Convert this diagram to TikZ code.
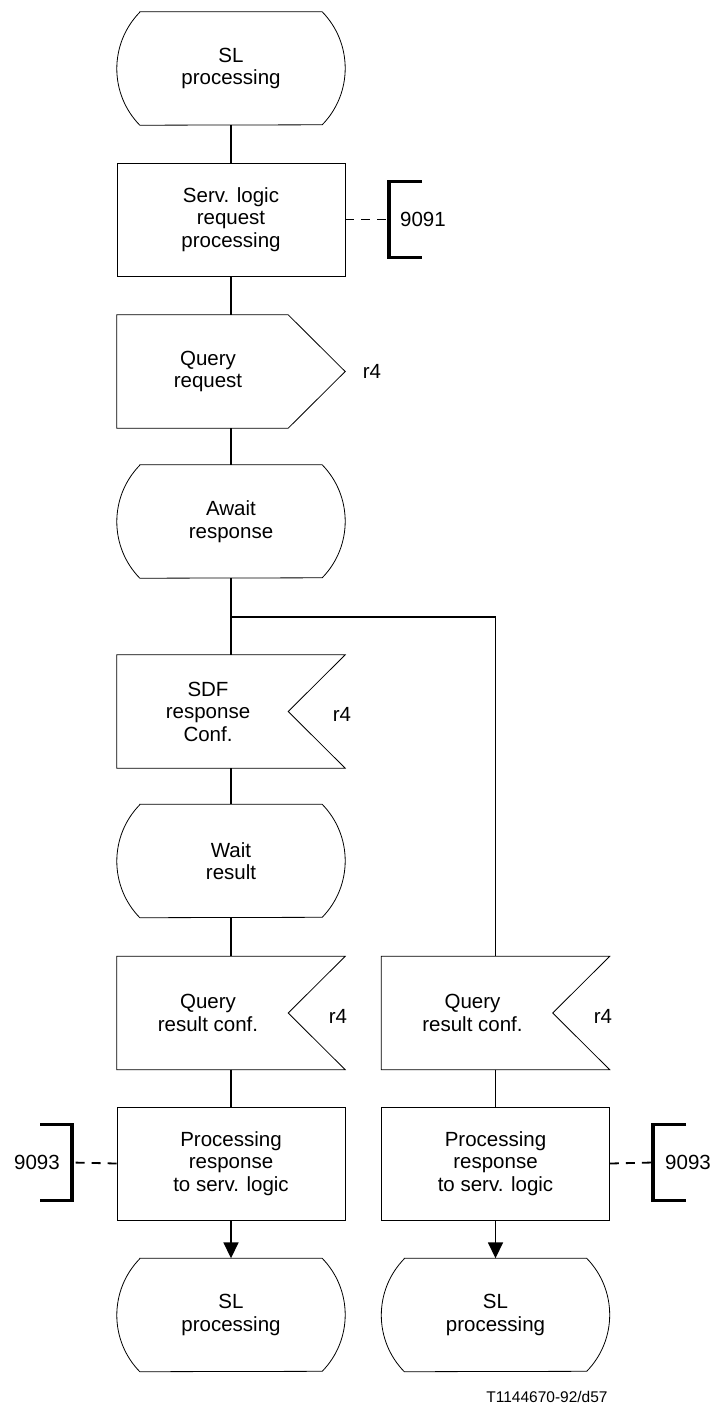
\documentclass[tikz,border=0pt]{standalone}
\usepackage{fontspec}
\setmainfont{Liberation Sans}
\usetikzlibrary{calc,arrows.meta}
\newcommand\drawstate[1]{\draw[outline] ($(#1.north west)+(23,0)$) -- ($(#1.north east)+(-23,0)$) arc[start angle=44.3,end angle=-44.3,radius=80.9pt] -- ($(#1.south west)+(23,0)$) arc[start angle=224.3,end angle=135.7,radius=80.9pt] -- cycle;}
\newcommand\drawout[1]{\draw[outline] (#1.north west) -- ($(#1.north east)+(-57,0)$) -- (#1.east) -- ($(#1.south east)+(-57,0)$) -- (#1.south west) -- cycle;}
\newcommand\drawin[1]{\draw[outline] (#1.north west) -- (#1.north east) -- ($(#1.east)+(-57,0)$) -- (#1.south east) -- (#1.south west) -- cycle;}
\newcommand\brkright[1]{\draw[brk] ($(#1.west)+(33,-38)$) -- ($(#1.west)+(0,-38)$) -- ($(#1.west)+(0,38)$) -- ($(#1.west)+(33,38)$);}
\newcommand\brkleft[1]{\draw[brk] ($(#1.east)+(-32,-38)$) -- ($(#1.east)+(0,-38)$) -- ($(#1.east)+(0,38)$) -- ($(#1.east)+(-32,38)$);}
\begin{document}
\begin{tikzpicture}[x=1pt,y=-1pt,
  every node/.style={font=\fontsize{20.5}{22.5}\selectfont},
  shp/.style={minimum width=228pt, minimum height=113pt, inner sep=0pt, align=center},
  rectbox/.style={shp, draw, line width=0.8pt},
  outline/.style={line width=0.8pt},
  conn/.style={line width=1.6pt},
  txt/.style={align=center, inner sep=0pt},
  lbl/.style={inner sep=0pt},
  cmt/.style={inner sep=0pt, inner xsep=11pt},
  brk/.style={line width=3.5pt},
  dsh/.style={line width=1.8pt, dash pattern=on 9pt off 7pt},
  arr/.style={conn, -{Triangle[length=16pt,width=15pt]}}
]
\useasboundingbox (0,0) rectangle (715,1409);

% left column
\node[shp] (sl1) at (231,68.5) {SL\\processing};
\drawstate{sl1}
\node[rectbox] (slr) at (231,219.5) {Serv. logic\\request\\processing};
\node[shp] (qr) at (231,371.5) {};
\drawout{qr}
\node[txt] (qrt) at ([xshift=-23pt]qr.center) {Query\\request};
\node[lbl] (qrl) at (372,371.5) {r4};
\node[shp] (aw) at (231,521.5) {Await\\response};
\drawstate{aw}
\coordinate (br) at (231,617);
\node[shp] (sdf) at (231,711.5) {};
\drawin{sdf}
\node[txt] (sdft) at ([xshift=-23pt]sdf.center) {SDF\\response\\Conf.};
\node[lbl] (sdfl) at (342,714) {r4};
\node[shp] (wr) at (231,861) {Wait\\result};
\drawstate{wr}
\node[shp] (qrc1) at (231,1013) {};
\drawin{qrc1}
\node[txt] (qrc1t) at ([xshift=-23pt]qrc1.center) {Query\\result conf.};
\node[lbl] (qrc1l) at (338,1016) {r4};
\node[rectbox] (p1) at (231,1163.5) {Processing\\response\\to serv. logic};
\node[shp] (sl2) at (231,1315) {SL\\processing};
\drawstate{sl2}

% right column
\node[shp] (qrc2) at (495.5,1013) {};
\drawin{qrc2}
\node[txt] (qrc2t) at ([xshift=-23pt]qrc2.center) {Query\\result conf.};
\node[lbl] (qrc2l) at (603,1016) {r4};
\node[rectbox] (p2) at (495.5,1163.5) {Processing\\response\\to serv. logic};
\node[shp] (sl3) at (495.5,1315) {SL\\processing};
\drawstate{sl3}

% comments
\node[cmt, anchor=west] (c1) at (389,219.5) {9091};
\brkright{c1}
\draw[dsh] (slr.east) -- (c1.west);
\node[cmt, anchor=east, inner xsep=12pt] (c2) at (72,1162.5) {9093};
\brkleft{c2}
\draw[dsh] (p1.west) -- (c2.east);
\node[cmt, anchor=west, inner xsep=12pt] (c3) at (653,1162.5) {9093};
\brkright{c3}
\draw[dsh] (p2.east) -- (c3.west);

% connectors
\draw[conn] (sl1.south) -- (slr.north);
\draw[conn] (slr.south) -- (qr.north);
\draw[conn] (qr.south) -- (aw.north);
\draw[conn] (aw.south) -- (sdf.north);
\draw[conn] (br) -| (qrc2.north);
\draw[conn] (sdf.south) -- (wr.north);
\draw[conn] (wr.south) -- (qrc1.north);
\draw[conn] (qrc1.south) -- (p1.north);
\draw[conn] (qrc2.south) -- (p2.north);
\draw[arr] (p1.south) -- (sl2.north);
\draw[arr] (p2.south) -- (sl3.north);

\node[lbl, font=\fontsize{15.5}{18}\selectfont] (code) at (547,1397) {T1144670-92/d57};
\end{tikzpicture}
\end{document}
